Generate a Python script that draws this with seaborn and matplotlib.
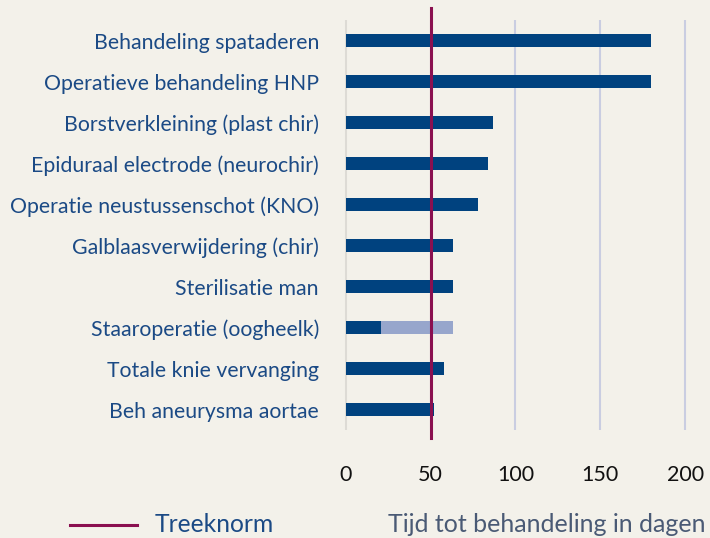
import pandas as pd
import seaborn as sns
import matplotlib.pyplot as plt

# wachttijden per ingreep (dagen)
ingrepen = ["Behandeling spataderen", "Operatieve behandeling HNP",
            "Borstverkleining (plast chir)", "Epiduraal electrode (neurochir)",
            "Operatie neustussenschot (KNO)", "Galblaasverwijdering (chir)",
            "Sterilisatie man", "Staaroperatie (oogheelk)",
            "Totale knie vervanging", "Beh aneurysma aortae"]
totaal = [180, 180, 87, 84, 78, 63, 63, 63, 58, 52]
donker = [180, 180, 87, 84, 78, 63, 63, 21, 58, 52]
treeknorm = 50
xticks = [0, 50, 100, 150, 200]

df = pd.DataFrame({"ingreep": ingrepen, "totaal": totaal, "donker": donker})

bg = "#f3f1ea"
plt.rcParams["font.family"] = ["Lato", "DejaVu Sans"]

fig = plt.figure(figsize=(7.1, 5.38), dpi=100, facecolor=bg)
ax = fig.add_axes([0.4845, 0.2007, 0.4831, 0.7621], facecolor=bg)

sns.barplot(data=df, x="totaal", y="ingreep", color="#97a6cc", width=0.34,
            saturation=1, ax=ax, zorder=3)
sns.barplot(data=df, x="donker", y="ingreep", color="#00427f", width=0.34,
            saturation=1, ax=ax, zorder=4)

# rasterlijnen
for x in xticks:
    ax.axvline(x, color="#dddbd5" if x == 0 else "#c9cde1", lw=1.5, zorder=1)
ax.axvline(treeknorm, ymin=-0.02, ymax=1.03, color="#8a1050", lw=2.2,
           zorder=5, clip_on=False)

ax.set_xlim(-1, 201)
ax.set_ylim(9.5, -0.5)
ax.set_xticks(xticks)
ax.set_xlabel("")
ax.set_ylabel("")
for s in ax.spines.values():
    s.set_visible(False)
ax.tick_params(axis="both", length=0)
ax.tick_params(axis="y", pad=18, labelsize=15.3, labelcolor="#1b4a85")
ax.tick_params(axis="x", pad=25, labelsize=15.5, labelcolor="#111111")

# legenda en astitel
fig.add_artist(plt.Line2D([70/710, 137/710], [1 - 525/538] * 2,
                          color="#8a1050", lw=2.2))
fig.text(155/710, 1 - 525/538, "Treeknorm", color="#1b4a85", fontsize=17.7,
         va="center")
fig.text(706/710, 1 - 525/538, "Tijd tot behandeling in dagen", color="#4a5a75",
         fontsize=18, va="center", ha="right")

fig.savefig("out.png", dpi=100, facecolor=bg)
